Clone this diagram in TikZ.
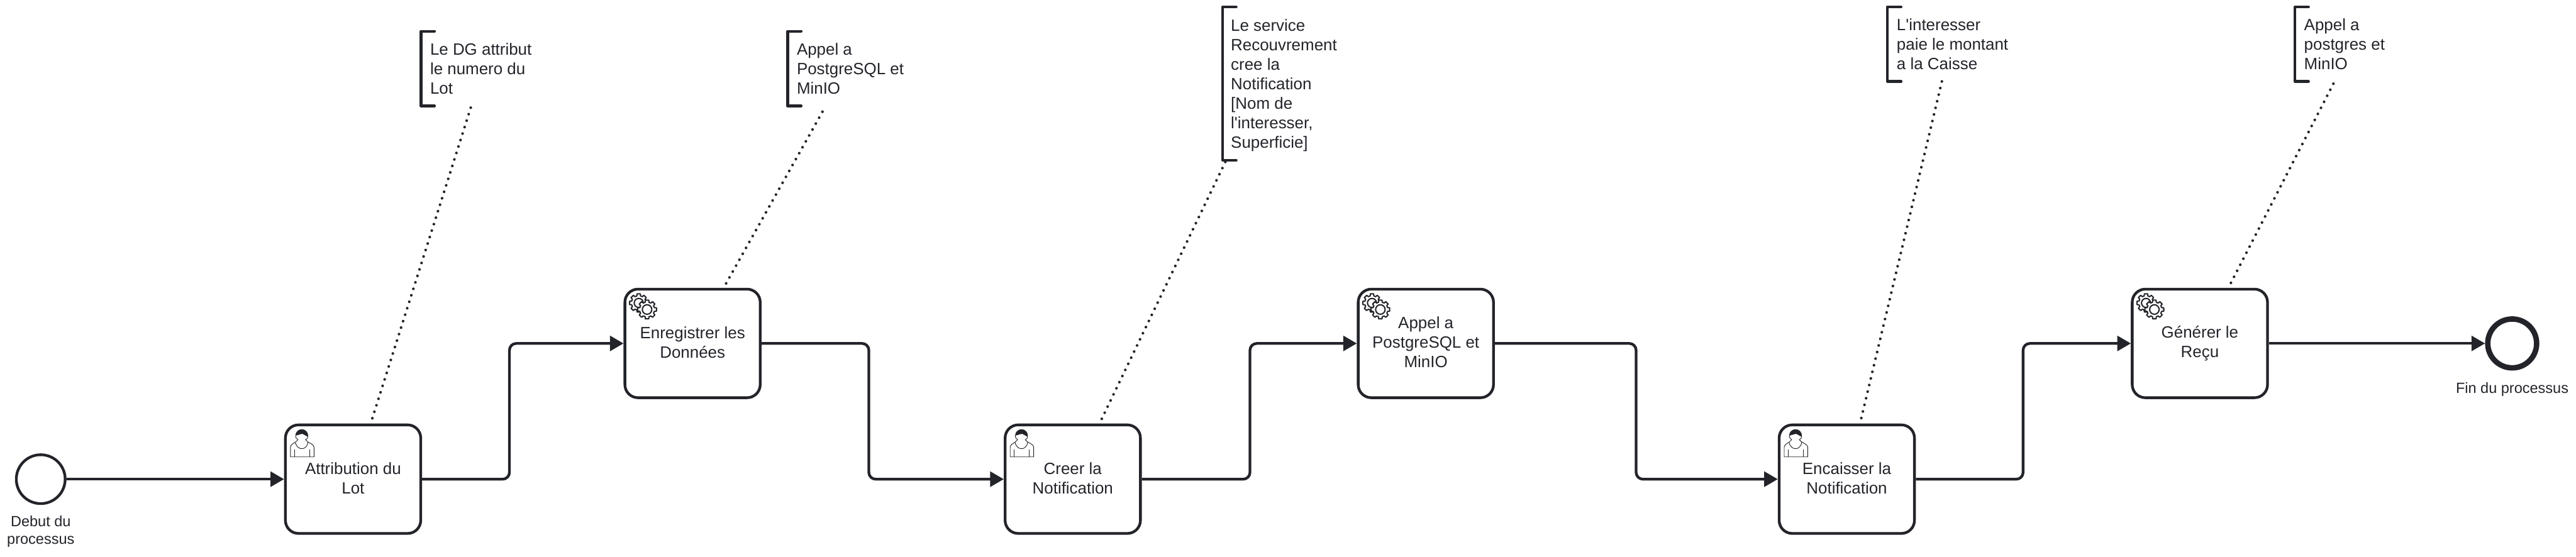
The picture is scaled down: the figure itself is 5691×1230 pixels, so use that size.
\documentclass[tikz,border=0pt]{standalone}
\usepackage{fontspec}
\usepackage{xcolor}
\usetikzlibrary{arrows.meta, positioning}
\newfontfamily\bpmnfont{Liberation Sans}
\definecolor{ink}{RGB}{34,36,42}
\newcommand{\taskdepth}{\rule[-3.2pt]{0pt}{3.2pt}}
\tikzstyle{taskbox}=[rectangle, rounded corners=0.58cm, draw=ink, line width=0.12cm,
  font=\bpmnfont\fontsize{20.5}{24.5}\selectfont, text=ink, text centered, align=center,
  minimum width=5.98cm, minimum height=4.8cm, inner sep=0pt,
  execute at end node=\taskdepth]
\tikzstyle{evstartbox}=[circle, draw=ink, line width=0.12cm, minimum size=2.16cm, inner sep=0pt]
\tikzstyle{evendbox}=[circle, draw=ink, line width=0.24cm, minimum size=2.16cm, inner sep=0pt]
\tikzstyle{evlabel}=[font=\bpmnfont\fontsize{18.6}{22.5}\selectfont, text=ink, align=center, inner sep=0pt,
  execute at end node=\strut]
\tikzstyle{notetext}=[font=\bpmnfont\fontsize{20.5}{24.5}\selectfont, text=ink, align=left, inner sep=0pt,
  anchor=west, execute at end node=\strut]
\tikzstyle{flow}=[-{Triangle[length=0.6cm, width=0.66cm]}, line width=0.12cm, color=ink, rounded corners=0.3cm]
\tikzstyle{assoc}=[line width=0.12cm, color=ink, line cap=round, dash pattern=on 0pt off 0.3cm, shorten >=0.2cm]
\tikzstyle{bracket}=[line width=0.12cm, color=ink, line cap=round, line join=round]
\tikzstyle{iconline}=[draw=ink, line width=0.026cm, line join=round]
\tikzstyle{gearline}=[draw=ink, fill=white, line width=0.056cm, line join=round]
\newcommand{\gearpath}[2]{(-15:#2) \foreach \a in {0,45,...,315} {-- (\a-15:#2) -- (\a-10:#1) -- (\a+10:#1) -- (\a+15:#2)} -- cycle}
\tikzset{
  usericon/.pic={
    \draw[iconline] (-138.3,-49.3) -- (-138.3,-70.7) .. controls (-138.3,-76) and (-132,-79) .. (-126.7,-82.3)
      -- (-121.7,-87.3) .. controls (-128,-91) and (-127,-96) .. (-126.7,-96.3)
      arc[start angle=180, end angle=360, radius=13.4]
      .. controls (-99.6,-92) and (-100,-90) .. (-105,-87.3) -- (-100,-82.3)
      .. controls (-94,-79) and (-86.3,-76) .. (-86.3,-70.7) -- (-86.3,-49.3) -- cycle;
    \draw[iconline] (-127.7,-82.3) .. controls (-126,-72) and (-119,-67.3) .. (-113.3,-67.3)
      .. controls (-107,-67.3) and (-101,-72) .. (-99.5,-82.3);
    \draw[iconline] (-129,-65.7) -- (-129,-49.3);
    \draw[iconline] (-96,-65.7) -- (-96,-49.3);
    \fill[ink] (-126.7,-96.3) arc[start angle=180, end angle=360, radius=13.4]
      -- (-99.9,-94) .. controls (-106,-96) and (-110,-101) .. (-114,-100) .. controls (-118,-98) and (-123,-98) .. cycle;
  },
  gearicon/.pic={
    \begin{scope}[shift={(-119,-89.5)}]
      \draw[gearline] \gearpath{20.5}{16};
      \draw[iconline, line width=0.056cm] (0,0) circle[radius=10];
    \end{scope}
    \begin{scope}[shift={(-100.5,-75)}]
      \draw[gearline] \gearpath{21}{16.5};
      \draw[iconline, line width=0.056cm] (0,0) circle[radius=10.5];
    \end{scope}
  }
}

\begin{document}
\begin{tikzpicture}[x=0.02cm, y=-0.02cm]
        \useasboundingbox (0,0) rectangle (5691,1230);
        \node[evstartbox] (debut) at (90,1059) {};
        \node[evlabel, below=0.47cm of debut] (debutlabel) {Debut du\\processus};
        \node[taskbox] (lot) at (780,1059) {Attribution du\\Lot};
        \node[taskbox] (donnees) at (1530,759) {Enregistrer les\\Données};
        \node[taskbox] (creer) at (2370,1059) {Creer la\\Notification};
        \node[taskbox] (appel) at (3150,759) {Appel a\\PostgreSQL et\\MinIO};
        \node[taskbox] (encaisser) at (4080,1059) {Encaisser la\\Notification};
        \node[taskbox] (recu) at (4860,759) {Générer le\\Reçu};
        \node[evendbox] (fin) at (5550,759) {};
        \node[evlabel, below=0.43cm of fin] (finlabel) {Fin du processus};
        \pic at (lot.center) {usericon};
        \pic at (creer.center) {usericon};
        \pic at (encaisser.center) {usericon};
        \pic at (donnees.center) {gearicon};
        \pic at (appel.center) {gearicon};
        \pic at (recu.center) {gearicon};
        \draw[flow] (debut)--(lot);
        \draw[flow] (lot.east) -- ++(193,0) |- (donnees.west);
        \draw[flow] (donnees.east) -- ++(237,0) |- (creer.west);
        \draw[flow] (creer.east) -- ++(239,0) |- (appel.west);
        \draw[flow] (appel.east) -- ++(312,0) |- (encaisser.west);
        \draw[flow] (encaisser.east) -- ++(237,0) |- (recu.west);
        \draw[flow] (recu)--(fin);
        \node[notetext] (notelot) at (950,158.5) {Le DG attribut\\le numero du\\Lot};
        \node[notetext] (notedonnees) at (1760,158.5) {Appel a\\PostgreSQL et\\MinIO};
        \node[notetext] (notecreer) at (2719,191.5) {Le service\\Recouvrement\\cree la\\Notification\\{[}Nom de\\l'interesser,\\Superficie{]}};
        \node[notetext] (noteencaisser) at (4190,104.5) {L'interesser\\paie le montant\\a la Caisse};
        \node[notetext] (noterecu) at (5090,104.5) {Appel a\\postgres et\\MinIO};
        \draw[bracket] (960,69) -- (930,69) -- (930,234) -- (960,234);
        \draw[bracket] (1770,69) -- (1740,69) -- (1740,234) -- (1770,234);
        \draw[bracket] (2731,15) -- (2701,15) -- (2701,354) -- (2731,354);
        \draw[bracket] (4200,15) -- (4170,15) -- (4170,180) -- (4200,180);
        \draw[bracket] (5100,15) -- (5070,15) -- (5070,180) -- (5100,180);
        \coordinate (tiplot) at (1040,238);
        \coordinate (tipdonnees) at (1817,247);
        \coordinate (tipcreer) at (2707,358);
        \coordinate (tipencaisser) at (4290,180);
        \coordinate (tiprecu) at (5155,185);
        \draw[assoc] (tiplot)--(lot);
        \draw[assoc] (tipdonnees)--(donnees);
        \draw[assoc] (tipcreer)--(creer);
        \draw[assoc] (tipencaisser)--(encaisser);
        \draw[assoc] (tiprecu)--(recu);
      \end{tikzpicture}
\end{document}
